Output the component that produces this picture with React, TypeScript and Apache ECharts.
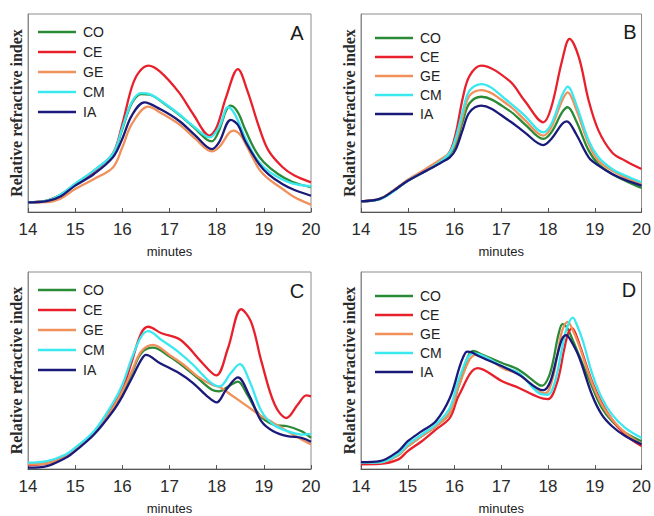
import React, { useEffect, useRef } from "react";
import * as echarts from "echarts";

// ---------- data (minutes, relative refractive index 0–100) ----------
const seriesNames = ["CO", "CE", "GE", "CM", "IA"];
const seriesColors = ["#2a8a35", "#e8202c", "#f0905a", "#3ae8f0", "#1a1a7a"];
const xTicks = [14, 15, 16, 17, 18, 19, 20];
const panelLetters = ["A", "B", "C", "D"];

// Panel A
const A_CO = [[14,4.9],[14.4,5.7],[14.7,8.8],[15,14.1],[15.4,20.9],[15.8,29.3],[16,41.9],[16.2,54.9],[16.4,59.6],[16.6,59.1],[16.9,54.5],[17.2,49.2],[17.5,43.1],[17.8,36.4],[17.9,35.7],[18.05,41.1],[18.2,51.2],[18.3,53.7],[18.45,50.3],[18.6,41.9],[18.8,31.8],[19,25.1],[19.3,19.2],[19.6,15.3],[20,12.5]];
const A_CE = [[14,4.9],[14.4,5.7],[14.7,8.8],[15,14.0],[15.4,20.5],[15.8,29.5],[16,44.4],[16.2,63.0],[16.35,70.5],[16.55,73.9],[16.8,70.9],[17.2,60.4],[17.5,49.5],[17.85,38.6],[18,42.8],[18.2,58.0],[18.45,72.2],[18.65,61.3],[18.9,42.8],[19.1,31.0],[19.4,22.6],[19.65,18.4],[20,15.0]];
const A_GE = [[14,4.9],[14.4,5.0],[14.7,6.9],[15,11.6],[15.4,16.7],[15.8,22.5],[16,32.7],[16.2,44.4],[16.55,53.2],[16.8,50.3],[17.2,44.4],[17.55,36.9],[17.9,30.6],[18.05,32.7],[18.35,41.1],[18.5,39.0],[18.65,32.7],[18.9,21.7],[19.1,16.7],[19.4,11.6],[19.65,7.4],[20,3.7]];
const A_CM = [[14,4.9],[14.4,5.7],[14.7,9.0],[15,14.3],[15.4,21.0],[15.8,29.5],[16,42.5],[16.2,55.5],[16.4,60.0],[16.6,59.3],[16.9,54.8],[17.2,49.5],[17.5,43.5],[17.85,37.7],[18.05,42.8],[18.2,52.4],[18.25,52.9],[18.4,48.7],[18.6,37.7],[18.8,28.5],[19,22.6],[19.3,17.5],[19.6,14.5],[20,13.0]];
const A_IA = [[14,4.9],[14.4,5.5],[14.7,8.0],[15,13.3],[15.4,19.2],[15.8,27.6],[16,37.0],[16.2,48.7],[16.47,55.4],[16.8,52.0],[17.2,46.1],[17.55,38.6],[17.9,31.8],[18.05,35.2],[18.3,46.5],[18.45,44.0],[18.6,36.0],[18.9,24.2],[19.1,19.0],[19.4,14.0],[19.65,11.1],[20,8.2]];

// Panel B
const B_CO = [[14,5.4],[14.4,6.6],[14.7,10.8],[15,15.8],[15.4,20.9],[15.7,25.1],[15.9,29.3],[16.03,34.3],[16.18,46.1],[16.32,54.9],[16.57,58.2],[17.17,51.2],[17.5,44.4],[17.9,36.9],[18.07,40.2],[18.3,50.3],[18.42,52.9],[18.6,46.1],[18.87,31.0],[19.08,24.2],[19.37,19.2],[19.65,15.8],[20,12.1]];
const B_CE = [[14,5.4],[14.4,6.6],[14.7,10.8],[15,15.8],[15.4,20.9],[15.7,25.5],[15.9,30.5],[16.03,40.0],[16.18,58.0],[16.32,68.7],[16.57,73.9],[17.17,66.3],[17.5,56.2],[17.9,45.3],[18.07,52.9],[18.3,76.4],[18.46,87.4],[18.66,78.1],[18.87,56.2],[19.08,41.1],[19.37,30.1],[19.65,25.9],[20,21.7]];
const B_GE = [[14,5.4],[14.4,6.6],[14.7,11.0],[15,16.3],[15.4,22.0],[15.7,26.5],[15.9,30.0],[16.03,36.0],[16.18,48.7],[16.32,58.8],[16.57,61.6],[17.17,53.7],[17.5,46.5],[17.9,38.6],[18.07,42.8],[18.3,56.2],[18.42,60.4],[18.6,52.0],[18.87,34.3],[19.08,25.9],[19.37,20.9],[19.65,17.5],[20,14.5]];
const B_CM = [[14,5.4],[14.4,6.4],[14.7,10.5],[15,15.8],[15.4,20.9],[15.7,25.5],[15.9,30.0],[16.03,37.7],[16.18,51.2],[16.32,61.3],[16.57,64.6],[17.17,55.4],[17.5,48.7],[17.9,40.2],[18.07,44.4],[18.3,58.8],[18.42,63.3],[18.6,54.5],[18.87,36.0],[19.08,27.6],[19.37,21.7],[19.65,18.4],[20,15.0]];
const B_IA = [[14,5.4],[14.4,6.6],[14.7,10.8],[15,15.8],[15.4,20.9],[15.7,24.8],[15.9,27.6],[16.03,31.8],[16.18,41.9],[16.32,50.3],[16.57,53.7],[17.17,46.1],[17.5,40.2],[17.9,33.8],[18.07,36.9],[18.3,44.4],[18.4,45.8],[18.6,39.4],[18.87,27.6],[19.08,23.4],[19.37,19.2],[19.65,16.2],[20,13.3]];

// Panel C
const C_CO = [[14,2.4],[14.4,2.8],[14.8,6.2],[15,9.8],[15.4,18.0],[15.8,30.5],[16,38.5],[16.2,48.7],[16.4,58.8],[16.65,61.6],[17,57.1],[17.3,52.0],[17.6,46.1],[17.9,40.2],[18.05,39.4],[18.25,41.9],[18.45,44.4],[18.65,37.7],[18.9,27.6],[19.2,22.6],[19.5,21.7],[19.8,19.2],[20,15.8]];
const C_CE = [[14,2.0],[14.4,2.8],[14.8,6.2],[15,9.8],[15.4,18.5],[15.8,31.8],[16,40.2],[16.2,54.5],[16.4,68.9],[16.55,72.2],[16.83,68.9],[17.18,66.3],[17.39,62.1],[17.67,54.5],[17.99,47.5],[18.24,61.3],[18.52,81.1],[18.73,74.7],[18.95,54.5],[19.23,32.7],[19.48,25.9],[19.72,32.7],[19.9,37.4],[20,36.9]];
const C_GE = [[14,2.4],[14.4,2.8],[14.8,6.2],[15,9.8],[15.4,18.0],[15.8,31.0],[16,39.4],[16.2,49.5],[16.4,59.6],[16.65,63.0],[17,57.9],[17.3,52.9],[17.6,46.9],[17.9,42.8],[18.1,41.1],[18.3,37.7],[18.6,32.7],[18.9,27.6],[19.2,23.4],[19.5,19.2],[19.8,15.0],[20,12.5]];
const C_CM = [[14,3.2],[14.4,4.0],[14.8,7.4],[15,10.8],[15.4,19.2],[15.8,33.5],[16,42.8],[16.2,56.2],[16.4,67.2],[16.55,70.0],[16.83,65.5],[17.18,59.6],[17.5,52.9],[17.85,44.4],[18.06,41.9],[18.3,48.7],[18.49,53.2],[18.7,44.4],[18.95,29.3],[19.2,22.6],[19.5,19.2],[19.8,17.5],[20,17.8]];
const C_IA = [[14,0.7],[14.4,1.5],[14.8,5.7],[15,9.1],[15.4,17.5],[15.8,29.3],[16,36.9],[16.2,46.1],[16.4,55.4],[16.5,57.9],[16.8,53.7],[17.2,48.7],[17.5,43.6],[17.8,36.9],[18,33.8],[18.2,40.2],[18.45,46.5],[18.7,36.9],[18.95,24.2],[19.2,19.2],[19.5,16.7],[19.8,15.8],[20,13.8]];

// Panel D
const D_CO = [[14,3.2],[14.4,3.2],[14.8,7.1],[15,11.6],[15.3,16.7],[15.6,21.7],[15.9,28.5],[16.1,42.8],[16.4,59.9],[16.6,58.0],[17.03,53.7],[17.38,50.3],[17.8,42.8],[17.88,42.3],[18.02,47.0],[18.12,56.0],[18.22,68.0],[18.31,73.5],[18.4,72.0],[18.5,67.0],[18.66,57.9],[18.94,41.9],[19.15,31.0],[19.37,24.2],[19.65,18.4],[20,14.1]];
const D_CE = [[14,2.4],[14.4,2.6],[14.8,4.9],[15,9.1],[15.3,14.1],[15.6,20.0],[15.9,25.9],[16.1,37.7],[16.5,51.2],[17.03,44.4],[17.38,41.1],[17.8,36.4],[18,35.5],[18.2,44.4],[18.35,61.3],[18.44,69.5],[18.52,71.4],[18.6,68.0],[18.7,61.3],[18.94,44.4],[19.15,33.5],[19.37,25.1],[19.65,17.5],[20,11.6]];
const D_GE = [[14,3.2],[14.4,3.2],[14.8,7.1],[15,11.6],[15.3,16.7],[15.6,21.7],[15.9,28.5],[16.1,42.8],[16.45,57.9],[16.7,56.5],[17.03,51.2],[17.38,48.0],[17.8,39.5],[17.95,38.5],[18.1,46.1],[18.2,58.0],[18.3,70.0],[18.42,74.7],[18.52,71.0],[18.66,63.0],[18.94,43.6],[19.15,32.7],[19.37,25.1],[19.65,18.4],[20,12.5]];
const D_CM = [[14,3.2],[14.4,3.4],[14.8,7.7],[15,12.5],[15.3,17.5],[15.6,22.6],[15.9,31.0],[16.1,46.1],[16.4,58.8],[16.65,57.0],[17.03,52.0],[17.38,48.7],[17.8,38.6],[18,37.7],[18.15,44.4],[18.3,61.3],[18.4,71.4],[18.53,76.8],[18.62,73.0],[18.75,64.6],[18.94,48.7],[19.15,36.0],[19.37,27.6],[19.65,20.9],[20,15.8]];
const D_IA = [[14,3.5],[14.4,4.0],[14.8,9.1],[15,14.1],[15.3,19.2],[15.6,24.2],[15.9,36.0],[16.1,51.2],[16.18,56.5],[16.27,59.6],[16.36,59.3],[16.5,57.5],[17.03,52.0],[17.38,47.8],[17.9,40.0],[18.05,44.4],[18.2,57.9],[18.3,66.0],[18.39,68.0],[18.48,65.5],[18.66,57.1],[18.94,37.7],[19.15,27.6],[19.37,21.7],[19.65,16.7],[20,12.5]];

const panelData = [
  [A_CO, A_CE, A_GE, A_CM, A_IA],
  [B_CO, B_CE, B_GE, B_CM, B_IA],
  [C_CO, C_CE, C_GE, C_CM, C_IA],
  [D_CO, D_CE, D_GE, D_CM, D_IA],
];

// ---------- layout ----------
const grids = [
  { left: 28, top: 14, width: 283, height: 198 },
  { left: 361, top: 14, width: 282, height: 198 },
  { left: 28, top: 272, width: 283, height: 198 },
  { left: 361, top: 272, width: 282, height: 198 },
];
const legendPos = [
  { left: 33, top: 20, gap: 6 },
  { left: 370, top: 26, gap: 5 },
  { left: 33, top: 278, gap: 6 },
  { left: 370, top: 284, gap: 5 },
];
const letterPos = [
  { x: 297, y: 33 },
  { x: 630, y: 32 },
  { x: 297, y: 291 },
  { x: 629, y: 290 },
];

export default function App() {
  const ref = useRef<HTMLDivElement>(null);
  useEffect(() => {
    if (!ref.current) return;
    const chart = echarts.init(ref.current, undefined, { renderer: "svg" });
    const sans = "Liberation Sans, Arial, sans-serif";
    const option: any = {
      animation: false,
      backgroundColor: "#ffffff",
      grid: grids.map((g) => ({
        ...g,
        show: true,
        borderColor: "#8c8c8c",
        borderWidth: 1,
        backgroundColor: "transparent",
      })),
      xAxis: grids.map((_, i) => ({
        type: "value",
        gridIndex: i,
        min: xTicks[0],
        max: xTicks[xTicks.length - 1],
        interval: 1,
        name: "minutes",
        nameLocation: "middle",
        nameGap: 33,
        nameTextStyle: { fontFamily: sans, fontSize: 13, color: "#222" },
        axisLine: { show: true, lineStyle: { color: "#555", width: 1 } },
        axisTick: { show: true, inside: true, length: 4, lineStyle: { color: "#555" } },
        axisLabel: { fontFamily: sans, fontSize: 17, color: "#2a2a2a", margin: 9 },
        splitLine: { show: false },
      })),
      yAxis: grids.map((_, i) => ({
        type: "value",
        gridIndex: i,
        min: 0,
        max: 100,
        name: "Relative refractive index",
        nameLocation: "middle",
        nameGap: 4,
        nameTextStyle: {
          fontFamily: "Liberation Serif, Times New Roman, serif",
          fontWeight: "bold",
          fontSize: 16,
          color: "#2a2a2a",
        },
        axisLine: { show: true, lineStyle: { color: "#8c8c8c", width: 1 } },
        axisTick: { show: false },
        axisLabel: { show: false },
        splitLine: { show: false },
      })),
      legend: legendPos.map((p) => ({
        orient: "vertical",
        left: p.left,
        top: p.top,
        icon: "rect",
        itemWidth: 38,
        itemHeight: 2.5,
        itemGap: p.gap,
        selectedMode: false,
        data: seriesNames,
        textStyle: { fontFamily: sans, fontSize: 14, lineHeight: 14, color: "#222", padding: [0, 0, 0, 2] },
      })),
      series: panelData.flatMap((panel, pi) =>
        panel.map((d, si) => ({
          type: "line",
          name: seriesNames[si],
          xAxisIndex: pi,
          yAxisIndex: pi,
          data: d,
          smooth: 0.35,
          symbol: "none",
          showSymbol: false,
          lineStyle: { color: seriesColors[si], width: 2.3 },
          itemStyle: { color: seriesColors[si] },
          z: 2 + si,
        }))
      ),
      graphic: letterPos.map((p, i) => ({
        type: "text",
        x: p.x,
        y: p.y,
        style: {
          text: panelLetters[i],
          fontFamily: sans,
          fontSize: 20,
          fill: "#1a1a1a",
          textAlign: "center",
          textVerticalAlign: "middle",
        },
      })),
    };
    chart.setOption(option);
    return () => chart.dispose();
  }, []);
  return (
    <div
      ref={ref}
      style={{ position: "fixed", left: 0, top: 0, width: 654, height: 516, background: "#fff" }}
    />
  );
}
